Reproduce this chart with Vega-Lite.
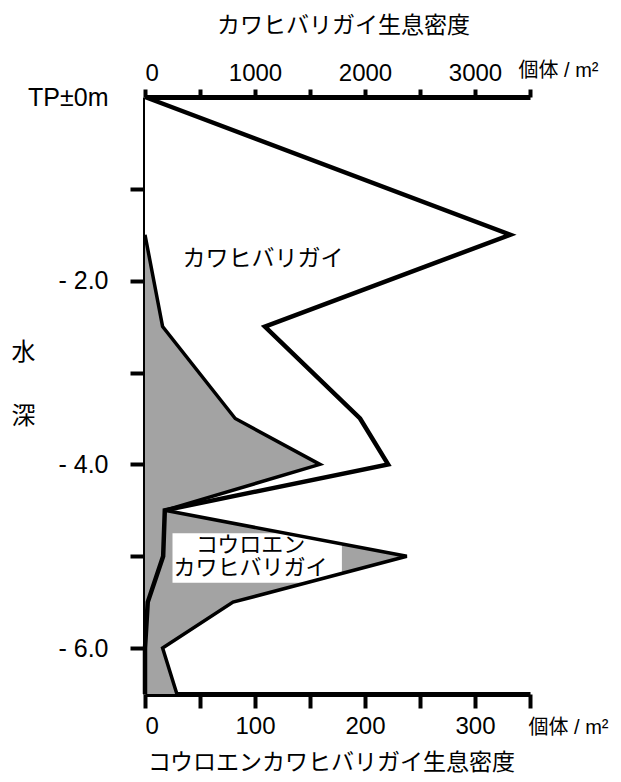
{
  "$schema": "https://vega.github.io/schema/vega-lite/v6.json",
  "width": 385,
  "height": 597,
  "autosize": {"type": "none"},
  "padding": {"left": 145, "top": 97, "right": 91, "bottom": 88},
  "background": "white",
  "config": {
    "view": {"stroke": null},
    "font": "Liberation Sans, Noto Sans CJK JP",
    "axis": {
      "grid": false,
      "domainColor": "black",
      "tickColor": "black",
      "labelColor": "black",
      "titleColor": "black",
      "labelFont": "Liberation Sans, Noto Sans CJK JP",
      "titleFont": "Liberation Sans, Noto Sans CJK JP",
      "titleFontWeight": "normal"
    },
    "text": {"font": "Liberation Sans, Noto Sans CJK JP"}
  },
  "datasets": {
    "kawa": [
      {"depth": 0, "density": 0},
      {"depth": -1.5, "density": 3320},
      {"depth": -2.5, "density": 1090},
      {"depth": -3.5, "density": 1955},
      {"depth": -4.0, "density": 2210},
      {"depth": -4.5, "density": 180},
      {"depth": -5.0, "density": 165},
      {"depth": -5.5, "density": 25},
      {"depth": -6.0, "density": 0},
      {"depth": -6.5, "density": 0}
    ],
    "koroen": [
      {"depth": -1.5, "density": 0},
      {"depth": -2.5, "density": 16},
      {"depth": -3.5, "density": 82},
      {"depth": -4.0, "density": 159},
      {"depth": -4.5, "density": 18},
      {"depth": -5.0, "density": 238},
      {"depth": -5.5, "density": 80},
      {"depth": -6.0, "density": 16},
      {"depth": -6.5, "density": 29}
    ],
    "one": [{}]
  },
  "layer": [
    {
      "data": {"name": "kawa"},
      "mark": {"type": "area", "orient": "horizontal", "fill": "white", "stroke": null},
      "encoding": {
        "y": {
          "field": "depth", "type": "quantitative",
          "scale": {"domain": [-6.5, 0], "nice": false, "zero": false},
          "axis": {
            "values": [0, -1, -2, -3, -4, -5, -6],
            "labelExpr": "datum.value == 0 ? 'TP±0m' : (datum.value % 2 == 0 ? '- ' + format(-datum.value, '.1f') : '')",
            "labelFontSize": 25,
            "labelPadding": 22,
            "labelBaseline": "middle",
            "tickSize": 15,
            "tickWidth": 4,
            "tickOpacity": {"condition": {"test": "datum.value == 0", "value": 0}, "value": 1},
            "domainWidth": 5,
            "title": ["水", "深"],
            "titleAngle": 0,
            "titleFontSize": 24,
            "titleLineHeight": 64,
            "titleAlign": "center",
            "titleBaseline": "middle",
            "titleX": -122,
            "titleY": 255
          }
        },
        "x": {
          "field": "density", "type": "quantitative", "stack": null,
          "scale": {"domain": [0, 3500], "nice": false},
          "axis": {
            "orient": "top",
            "values": [0, 500, 1000, 1500, 2000, 2500, 3000, 3500],
            "format": "d",
            "labelExpr": "datum.value % 1000 == 0 ? datum.label : ''",
            "labelFontSize": 24,
            "labelPadding": 4,
            "tickSize": 8,
            "tickWidth": 4,
            "domainWidth": 5,
            "title": "個体 / m²",
            "titleFontSize": 20,
            "titleAlign": "left",
            "titleBaseline": "middle",
            "titleAngle": 0,
            "titleX": 373,
            "titleY": -27
          }
        }
      }
    },
    {
      "data": {"name": "koroen"},
      "mark": {"type": "area", "orient": "horizontal", "fill": "#a3a3a3", "stroke": null},
      "encoding": {
        "y": {"field": "depth", "type": "quantitative"},
        "x": {
          "field": "density", "type": "quantitative", "stack": null,
          "scale": {"domain": [0, 350], "nice": false},
          "axis": {
            "orient": "bottom",
            "values": [0, 50, 100, 150, 200, 250, 300, 350],
            "format": "d",
            "labelExpr": "datum.value % 100 == 0 ? datum.label : ''",
            "labelFontSize": 24,
            "labelPadding": 6,
            "tickSize": 14,
            "tickWidth": 4,
            "domainWidth": 5,
            "title": "個体 / m²",
            "titleFontSize": 20,
            "titleAlign": "left",
            "titleBaseline": "middle",
            "titleAngle": 0,
            "titleX": 383,
            "titleY": 33
          }
        }
      }
    },
    {
      "data": {"name": "one"},
      "mark": {"type": "rect", "fill": "white"},
      "encoding": {
        "x": {"datum": 25, "type": "quantitative", "scale": {"domain": [0, 350], "nice": false}, "axis": null},
        "x2": {"datum": 179},
        "y": {"datum": -4.75, "type": "quantitative"},
        "y2": {"datum": -5.29}
      }
    },
    {
      "data": {"name": "koroen"},
      "mark": {"type": "line", "stroke": "black", "strokeWidth": 3.5, "strokeJoin": "miter"},
      "encoding": {
        "y": {"field": "depth", "type": "quantitative"},
        "x": {
          "field": "density", "type": "quantitative",
          "scale": {"domain": [0, 350], "nice": false},
          "axis": {
            "orient": "bottom",
            "labels": false, "ticks": false, "domain": false,
            "title": "コウロエンカワヒバリガイ生息密度",
            "titleFontSize": 23,
            "titleAlign": "center",
            "titleBaseline": "middle",
            "titleX": 186,
            "titleY": 68
          }
        },
        "order": {"field": "depth", "sort": "descending"}
      }
    },
    {
      "data": {"name": "kawa"},
      "mark": {"type": "line", "stroke": "black", "strokeWidth": 4.5, "strokeJoin": "miter"},
      "encoding": {
        "y": {"field": "depth", "type": "quantitative"},
        "x": {
          "field": "density", "type": "quantitative",
          "scale": {"domain": [0, 3500], "nice": false},
          "axis": {
            "orient": "top",
            "labels": false, "ticks": false, "domain": false,
            "title": "カワヒバリガイ生息密度",
            "titleFontSize": 23,
            "titleAlign": "center",
            "titleBaseline": "middle",
            "titleX": 198,
            "titleY": -72
          }
        },
        "order": {"field": "depth", "sort": "descending"}
      }
    },
    {
      "data": {"name": "one"},
      "mark": {"type": "text", "fontSize": 23, "align": "center", "baseline": "middle", "color": "black"},
      "encoding": {
        "x": {"datum": 1073, "type": "quantitative", "scale": {"domain": [0, 3500], "nice": false}, "axis": null},
        "y": {"datum": -1.76, "type": "quantitative"},
        "text": {"value": "カワヒバリガイ"}
      }
    },
    {
      "data": {"name": "one"},
      "mark": {"type": "text", "fontSize": 22, "align": "center", "baseline": "middle", "lineHeight": 23, "color": "black"},
      "encoding": {
        "x": {"datum": 96, "type": "quantitative", "scale": {"domain": [0, 350], "nice": false}, "axis": null},
        "y": {"datum": -4.88, "type": "quantitative"},
        "text": {"value": ["コウロエン", "カワヒバリガイ"]}
      }
    }
  ],
  "resolve": {"scale": {"x": "independent"}, "axis": {"x": "independent"}}
}
